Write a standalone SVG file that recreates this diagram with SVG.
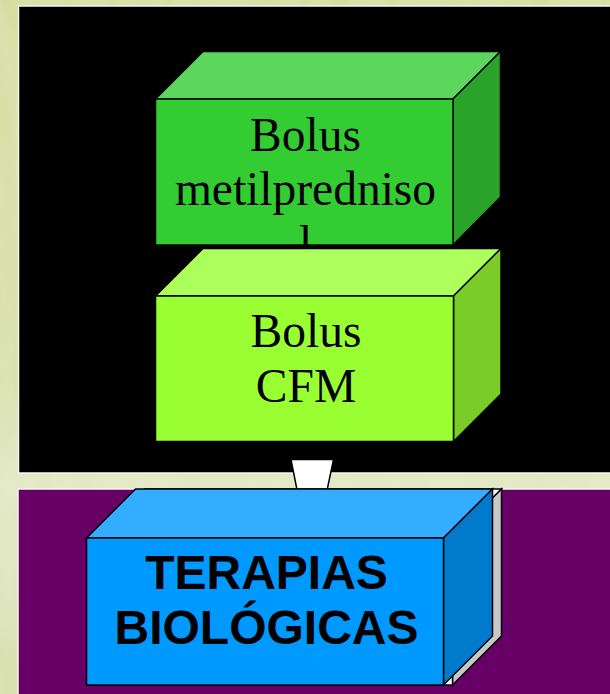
<svg xmlns="http://www.w3.org/2000/svg" width="610" height="694" viewBox="0 0 610 694">
  <defs>
    <filter id="marble" x="0" y="0" width="100%" height="100%">
      <feTurbulence type="fractalNoise" baseFrequency="0.04 0.012" numOctaves="4" seed="7" result="n"/>
      <feColorMatrix in="n" type="matrix" values="0 0 0 0 0.86  0 0 0 0 0.9  0 0 0 0 0.7  0 0 0 -1.2 0.9" result="c"/>
    </filter>
    <linearGradient id="bgGrad" x1="0" y1="0" x2="0" y2="1">
      <stop offset="0" stop-color="#D6DDA2"/>
      <stop offset="0.55" stop-color="#D9E0AE"/>
      <stop offset="0.7" stop-color="#E2E8C6"/>
      <stop offset="1" stop-color="#D7DFAE"/>
    </linearGradient>
    <style>
      .edge { stroke: #000; stroke-width: 1.5; stroke-linejoin: miter; }
      .serif { font-family: "Liberation Serif", "Times New Roman", serif; font-size: 47.5px; fill: #000; text-anchor: middle; }
      .sans { font-family: "Liberation Sans", Arial, sans-serif; font-size: 48px; font-weight: bold; fill: #000; text-anchor: middle; }
    </style>
  </defs>

  <!-- background -->
  <rect x="0" y="0" width="610" height="694" fill="url(#bgGrad)"/>
  <rect x="0" y="0" width="610" height="694" filter="url(#marble)" opacity="0.35"/>

  <!-- panels -->
  <rect x="18.5" y="6" width="600" height="467" fill="#000" stroke="#F4F6EA" stroke-width="1.5"/>
  <rect x="18" y="489" width="600" height="220" fill="#660066" stroke="#F4F6EA" stroke-width="1.5"/>

  <!-- connectors -->
  <g id="connectors">
    <polygon points="291,459.5 333.5,459.5 325,500 299,500" fill="#FFFFFF" class="edge"/>
  </g>

  <!-- node 1 -->
  <g id="bolus-metilprednisolona">
    <polygon points="155.5,99 203,51.5 500.5,51.5 453,99" fill="#5CD65C" class="edge"/>
    <polygon points="453,99 500.5,51.5 500.5,197 453,245" fill="#29A329" class="edge"/>
    <rect x="155.5" y="99" width="297.5" height="146" fill="#33CC33" class="edge"/>
    <text class="serif" x="305.5" y="151">Bolus</text>
    <text class="serif" x="305.5" y="205">metilpredniso</text>
    <text class="serif" x="305.5" y="259">l</text>
  </g>

  <!-- node 2 -->
  <g id="bolus-cfm">
    <polygon points="155.5,296 203,248.5 501,248.5 453.5,296" fill="#ADFF5C" class="edge"/>
    <polygon points="453.5,296 501,248.5 501,394 453.5,441.5" fill="#7ACC29" class="edge"/>
    <rect x="155.5" y="296" width="298" height="145.5" fill="#99FF33" class="edge"/>
    <text class="serif" x="306" y="346.5">Bolus</text>
    <text class="serif" x="306" y="401.5">CFM</text>
  </g>

  <!-- node 3 -->
  <g id="terapias-biologicas">
    <!-- back shadow box -->
    <polygon points="144.5,489 501.5,489 452.5,538 95.5,538" fill="#FFFFFF" class="edge"/>
    <polygon points="452.5,538 501.5,489 501.5,636 452.5,685" fill="#C8C8C8" class="edge"/>
    <rect x="95.5" y="538" width="357" height="147" fill="#FFFFFF" class="edge"/>
    <!-- blue box -->
    <polygon points="86.5,538 135.5,489 492.5,489 443.5,538" fill="#33ADFF" class="edge"/>
    <polygon points="443.5,538 492.5,489 492.5,636 443.5,685" fill="#007ACC" class="edge"/>
    <rect x="86.5" y="538" width="357" height="147" fill="#0099FF" class="edge"/>
    <text class="sans" x="266.5" y="589">TERAPIAS</text>
    <text class="sans" x="266.5" y="644">BIOLÓGICAS</text>
  </g>
</svg>
